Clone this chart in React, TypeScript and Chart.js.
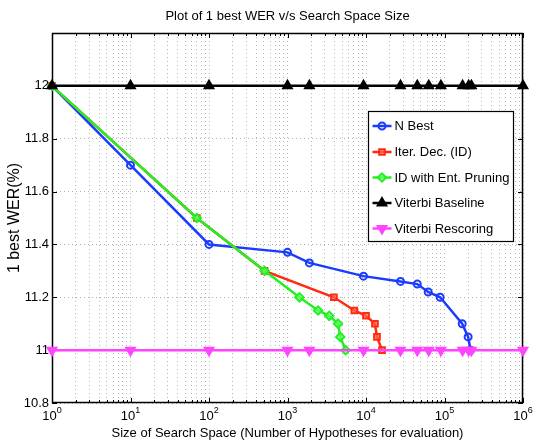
import React, { useEffect, useRef } from 'react';
import { Chart, registerables } from 'chart.js';
import { drawPoint } from 'chart.js/helpers';

Chart.register(...registerables);

// ---- data ----
const titleText = 'Plot of 1 best WER v/s Search Space Size';
const xTitle = 'Size of Search Space (Number of Hypotheses for evaluation)';
const yTitle = '1 best WER(%)';

const nBestX = [1, 10, 100, 1000, 1900, 9300, 27500, 45000, 62000, 88000, 168000, 200000, 215000];
const nBestY = [12, 11.7, 11.4, 11.37, 11.33, 11.28, 11.26, 11.25, 11.22, 11.2, 11.1, 11.05, 11.0];

const iterDecX = [1, 70, 510, 3900, 7100, 10000, 13000, 13800, 16000];
const iterDecY = [12, 11.5, 11.3, 11.2, 11.15, 11.13, 11.1, 11.05, 11.0];

const entPrunX = [1, 70, 510, 1420, 2450, 3400, 4400, 4700, 5500];
const entPrunY = [12, 11.5, 11.3, 11.2, 11.15, 11.13, 11.1, 11.05, 11.0];

const baselineX = [1, 10, 100, 1000, 1900, 9300, 27500, 45000, 63000, 90000, 170000, 203000, 220000, 1000000];
const baselineY = [12, 12, 12, 12, 12, 12, 12, 12, 12, 12, 12, 12, 12, 12];

const rescoreX = [1, 10, 100, 1000, 1900, 9300, 27500, 45000, 63000, 90000, 170000, 203000, 220000, 1000000];
const rescoreY = [11, 11, 11, 11, 11, 11, 11, 11, 11, 11, 11, 11, 11, 11];

const seriesLabels = ['N Best', 'Iter. Dec. (ID)', 'ID with Ent. Pruning', 'Viterbi Baseline', 'Viterbi Rescoring'];
const xDecades = [0, 1, 2, 3, 4, 5, 6];

const FONT = '"Liberation Sans", Arial, Helvetica, sans-serif';

export default function App() {
  const ref = useRef<HTMLCanvasElement>(null);

  useEffect(() => {
    const canvas = ref.current;
    if (!canvas) return;
    const pts = (xs: number[], ys: number[]) => xs.map((x, i) => ({ x, y: ys[i] }));

    const styles = [
      { color: '#1a3cff', pointStyle: 'circle', radius: 3.5, fill: 'rgba(0,0,0,0)', rotation: 0 },
      { color: '#ff2a10', pointStyle: 'rect', radius: 4, fill: 'rgba(255,120,100,0.6)', rotation: 0 },
      { color: '#22f022', pointStyle: 'rectRot', radius: 4.2, fill: 'rgba(120,255,120,0.6)', rotation: 0 },
      { color: '#000000', pointStyle: 'triangle', radius: 5, fill: '#000000', rotation: 0 },
      { color: '#ff44ff', pointStyle: 'triangle', radius: 5, fill: '#ff44ff', rotation: 180 },
    ];
    const datas = [
      pts(nBestX, nBestY),
      pts(iterDecX, iterDecY),
      pts(entPrunX, entPrunY),
      pts(baselineX, baselineY),
      pts(rescoreX, rescoreY),
    ];

    const decor = {
      id: 'decor',
      beforeDatasetsDraw(chart: any) {
        const { ctx, chartArea: a, scales } = chart;
        const xs = scales.x;
        const ys = scales.y;
        ctx.save();
        ctx.strokeStyle = '#000';
        ctx.lineWidth = 1;
        ctx.beginPath();
        for (const t of xs.ticks) {
          const px = Math.round(xs.getPixelForValue(t.value)) + 0.5;
          const len = t.major ? 5 : 3;
          ctx.moveTo(px, a.bottom);
          ctx.lineTo(px, a.bottom - len);
          ctx.moveTo(px, a.top);
          ctx.lineTo(px, a.top + len);
        }
        for (const t of ys.ticks) {
          const py = Math.round(ys.getPixelForValue(t.value)) + 0.5;
          ctx.moveTo(a.left, py);
          ctx.lineTo(a.left + 5, py);
          ctx.moveTo(a.right, py);
          ctx.lineTo(a.right - 5, py);
        }
        ctx.stroke();
        ctx.lineWidth = 1.5;
        ctx.strokeRect(Math.round(a.left) + 0.5, Math.round(a.top) + 0.5, Math.round(a.right - a.left) - 1, Math.round(a.bottom - a.top) - 1);
        ctx.restore();
      },
      afterDraw(chart: any) {
        const { ctx, chartArea: a, scales } = chart;
        const xs = scales.x;
        ctx.save();
        ctx.fillStyle = '#000';
        // title
        ctx.font = `13px ${FONT}`;
        ctx.textAlign = 'center';
        ctx.textBaseline = 'alphabetic';
        ctx.fillText(titleText, (a.left + a.right) / 2, 20);
        // x tick labels 10^k
        for (const k of xDecades) {
          const px = xs.getPixelForValue(Math.pow(10, k));
          ctx.font = `13px ${FONT}`;
          const w1 = ctx.measureText('10').width;
          ctx.font = `9px ${FONT}`;
          const sup = String(k);
          const w2 = ctx.measureText(sup).width;
          const start = px - (w1 + w2) / 2;
          ctx.textAlign = 'left';
          ctx.font = `13px ${FONT}`;
          ctx.fillText('10', start, 420);
          ctx.font = `9px ${FONT}`;
          ctx.fillText(sup, start + w1, 413);
        }
        // x title
        ctx.font = `13px ${FONT}`;
        ctx.textAlign = 'center';
        ctx.fillText(xTitle, (a.left + a.right) / 2, 437);
        // y title
        ctx.save();
        ctx.translate(15, (a.top + a.bottom) / 2);
        ctx.rotate(-Math.PI / 2);
        ctx.font = `16px ${FONT}`;
        ctx.textAlign = 'center';
        ctx.textBaseline = 'middle';
        ctx.fillText(yTitle, 0, 0);
        ctx.restore();
        // legend
        const bx = 368.5, by = 111.5, bw = 145, bh = 130;
        ctx.fillStyle = '#fff';
        ctx.fillRect(bx, by, bw, bh);
        ctx.strokeStyle = '#000';
        ctx.lineWidth = 1.2;
        ctx.strokeRect(bx, by, bw, bh);
        const rows = [126, 152, 177.5, 203, 228.5];
        seriesLabels.forEach((lab, i) => {
          const st = styles[i];
          const y = rows[i];
          ctx.strokeStyle = st.color;
          ctx.lineWidth = 2.5;
          ctx.beginPath();
          ctx.moveTo(372.5, y);
          ctx.lineTo(391.5, y);
          ctx.stroke();
          ctx.fillStyle = st.fill;
          ctx.strokeStyle = st.color;
          ctx.lineWidth = 2;
          drawPoint(ctx, { pointStyle: st.pointStyle as any, rotation: st.rotation, radius: st.radius, borderWidth: 2 }, 382, y);
          ctx.fillStyle = '#000';
          ctx.font = `13px ${FONT}`;
          ctx.textAlign = 'left';
          ctx.textBaseline = 'middle';
          ctx.fillText(lab, 394.5, y + 0.5);
        });
        ctx.restore();
      },
    };

    const chart = new Chart(canvas, {
      type: 'line',
      data: {
        datasets: datas.map((d, i) => ({
          label: seriesLabels[i],
          data: d,
          borderColor: styles[i].color,
          backgroundColor: styles[i].fill,
          borderWidth: 2.5,
          pointStyle: styles[i].pointStyle as any,
          pointRadius: styles[i].radius,
          pointBorderWidth: 2,
          pointBorderColor: styles[i].color,
          pointBackgroundColor: styles[i].fill,
          pointRotation: styles[i].rotation,
          tension: 0,
          fill: false,
          clip: false as any,
          order: datas.length - 1 - i,
        })),
      },
      options: {
        responsive: false,
        animation: false,
        events: [],
        layout: { padding: { top: 33, right: 10, left: 0, bottom: 0 } },
        plugins: {
          legend: { display: false },
          title: { display: false },
          tooltip: { enabled: false },
        },
        scales: {
          x: {
            type: 'logarithmic',
            min: 1,
            max: 1000000,
            afterBuildTicks: (scale: any) => {
              const t: any[] = [];
              for (let k = 0; k < 6; k++) {
                for (let d = 1; d < 10; d++) t.push({ value: d * Math.pow(10, k), major: d === 1 });
              }
              t.push({ value: 1000000, major: true });
              scale.ticks = t;
            },
            afterFit: (scale: any) => {
              scale.height = 44;
            },
            ticks: { display: false },
            grid: { color: '#b8b8b8', lineWidth: 1, drawTicks: false },
            border: { display: false, dash: [1, 3] },
          },
          y: {
            type: 'linear',
            min: 10.8,
            max: 12.2,
            afterFit: (scale: any) => {
              scale.width = 52;
            },
            ticks: {
              stepSize: 0.2,
              padding: 3,
              color: '#000',
              font: { family: FONT, size: 13 },
              callback: (v: any) => {
                const n = Number(v);
                if (Math.abs(n - 12.2) < 1e-6) return '';
                return String(Math.round(n * 10) / 10);
              },
            },
            grid: { color: '#b0b0b0', lineWidth: 1, drawTicks: false },
            border: { display: false, dash: [1, 3] },
          },
        },
      },
      plugins: [decor],
    });
    return () => chart.destroy();
  }, []);

  return (
    <div style={{ position: 'absolute', left: 0, top: 0, width: 533, height: 447, background: '#fff' }}>
      <canvas ref={ref} width={533} height={447} style={{ display: 'block' }} />
    </div>
  );
}
